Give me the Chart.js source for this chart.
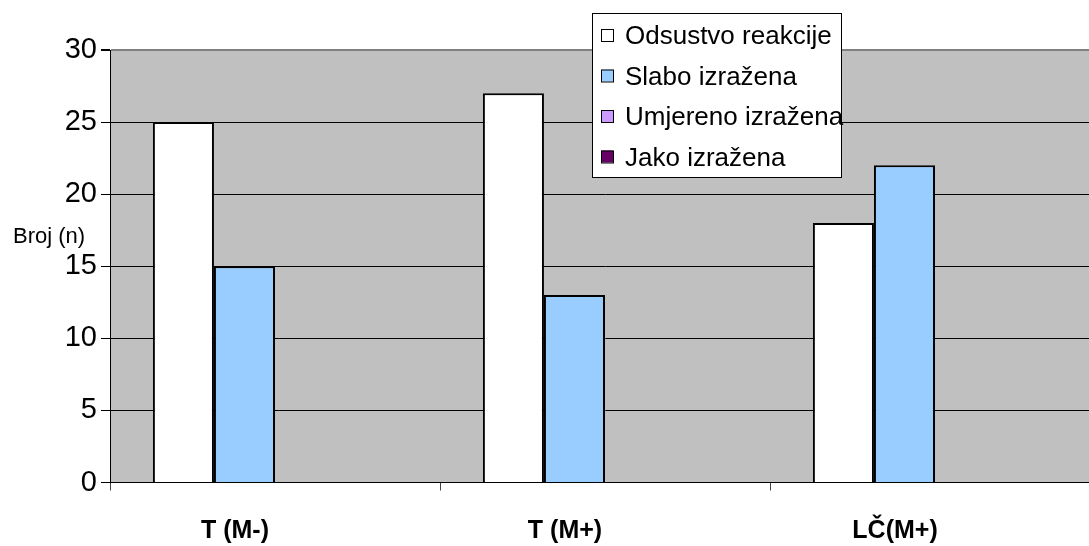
<!DOCTYPE html>
<html>
<head>
<meta charset="utf-8">
<script src="https://cdn.jsdelivr.net/npm/chart.js@4/dist/chart.umd.min.js"></script>
<style>
    html, body { margin: 0; padding: 0; background: #fff; overflow: hidden; }
    #wrap { width: 1100px; height: 546px; }
</style>
</head>
<body>
<div id="wrap"><canvas id="reactionChart" width="1100" height="546"></canvas></div>
<script>
// Chart data
const categories = ['T (M-)', 'T (M+)', 'LČ(M+)'];
const seriesNames = ['Odsustvo reakcije', 'Slabo izražena', 'Umjereno izražena', 'Jako izražena'];
const odsustvo = [25, 27, 18];
const slabo = [15, 13, 22];
const umjereno = [0, 0, 0];
const jako = [0, 0, 0];
const yTicks = [0, 5, 10, 15, 20, 25, 30];
const yTitle = 'Broj (n)';

const seriesColors = ['#FFFFFF', '#99CCFF', '#CC99FF', '#660066'];
const fontFamily = '"Liberation Sans", Arial, sans-serif';

// Gray plot area behind the bars
const plotBackground = {
    id: 'plotBackground',
    beforeDraw: function(chart) {
        const a = chart.chartArea;
        const ctx = chart.ctx;
        ctx.save();
        ctx.fillStyle = '#C0C0C0';
        ctx.fillRect(a.left, a.top, a.right - a.left, a.bottom - a.top);
        ctx.restore();
    }
};

// Horizontal y title and the boxed legend that sits over the plot
const extras = {
    id: 'extras',
    afterDraw: function(chart) {
        const ctx = chart.ctx;
        ctx.save();
        ctx.fillStyle = '#000';
        ctx.font = '22px ' + fontFamily;
        ctx.textBaseline = 'alphabetic';
        ctx.textAlign = 'left';
        ctx.fillText(yTitle, 13, 243);

        // legend box
        ctx.fillStyle = '#FFFFFF';
        ctx.fillRect(592, 13, 249, 164);
        ctx.strokeStyle = '#000';
        ctx.lineWidth = 1;
        ctx.strokeRect(592.5, 13.5, 249, 164);

        ctx.font = '26px ' + fontFamily;
        chart.data.datasets.forEach(function(ds, i) {
            const top = 29 + i * 40.5;
            ctx.fillStyle = ds.backgroundColor;
            ctx.fillRect(601, top, 12, 12);
            ctx.strokeStyle = '#000';
            ctx.strokeRect(601.5, top + 0.5, 12, 12);
            ctx.fillStyle = '#000';
            ctx.fillText(ds.label, 625, 44 + i * 40.5);
        });
        ctx.restore();
    }
};

const allSeries = [odsustvo, slabo, umjereno, jako];

const ctx = document.getElementById('reactionChart').getContext('2d');
const reactionChart = new Chart(ctx, {
    type: 'bar',
    data: {
        labels: categories,
        datasets: allSeries.map(function(values, i) {
            return {
                label: seriesNames[i],
                data: values,
                backgroundColor: seriesColors[i],
                borderColor: '#000',
                borderWidth: 2,
                categoryPercentage: 0.74,
                barPercentage: 1.0
            };
        })
    },
    options: {
        responsive: false,
        animation: false,
        layout: {
            padding: { top: 50, right: 0, bottom: 0, left: 0 }
        },
        plugins: {
            legend: { display: false },
            tooltip: { enabled: false }
        },
        scales: {
            x: {
                afterFit: function(scale) { scale.height = 63.5; },
                grid: {
                    display: true,
                    drawOnChartArea: false,
                    offset: true,
                    tickLength: 8,
                    tickColor: '#444'
                },
                border: { display: true, color: '#000', width: 1 },
                ticks: {
                    color: '#000',
                    padding: 26,
                    labelOffset: -40,
                    font: { family: fontFamily, size: 25, weight: 'bold' }
                }
            },
            y: {
                min: 0,
                max: 30,
                afterFit: function(scale) { scale.width = 110; },
                afterBuildTicks: function(scale) {
                    scale.ticks = yTicks.map(function(v) { return { value: v }; });
                },
                grid: {
                    color: function(c) { return c.tick && c.tick.value === 30 ? '#808080' : '#000'; },
                    lineWidth: function(c) { return c.tick && c.tick.value === 30 ? 2 : 1; },
                    tickLength: 9,
                    tickColor: '#000'
                },
                border: { display: true, color: '#000', width: 1 },
                ticks: {
                    color: '#000',
                    padding: 4,
                    font: { family: fontFamily, size: 29 }
                }
            }
        }
    },
    plugins: [plotBackground, extras]
});
</script>
</body>
</html>
